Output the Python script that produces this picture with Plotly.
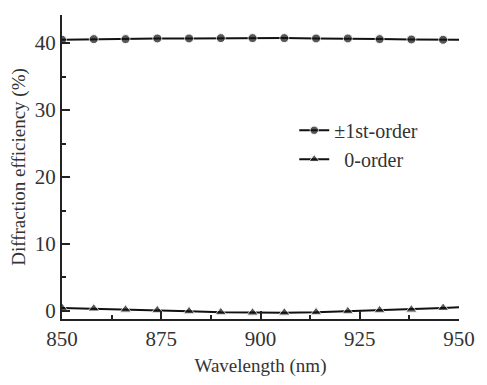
import plotly.graph_objects as go

wavelength = [850, 858, 866, 874, 882, 890, 898, 906, 914, 922, 930, 938, 946, 950]
first_order = [40.5, 40.6, 40.6, 40.7, 40.7, 40.75, 40.75, 40.75, 40.7, 40.7, 40.6, 40.55, 40.5, 40.5]
zero_order = [0.45, 0.35, 0.2, 0.1, -0.05, -0.2, -0.25, -0.25, -0.2, -0.05, 0.1, 0.2, 0.45, 0.55]
marker_sizes_c = [9] * 13 + [0]
marker_sizes_t = [10] * 13 + [0]

x_ticks = [850, 875, 900, 925, 950]
y_ticks = [0, 10, 20, 30, 40]

font_family = "Times New Roman, Liberation Serif, serif"

fig = go.Figure()
fig.add_trace(go.Scatter(
    x=wavelength, y=first_order, mode="lines+markers", name="±1st-order",
    line=dict(color="#111", width=2),
    marker=dict(symbol="circle", size=marker_sizes_c, color="#111"),
))
fig.add_trace(go.Scatter(
    x=wavelength, y=zero_order, mode="lines+markers", name="\u00a0\u00a00-order",
    line=dict(color="#111", width=2),
    marker=dict(symbol="triangle-up", size=marker_sizes_t, color="#111"),
))

axis_common = dict(
    showline=True, linecolor="#222", linewidth=2,
    ticks="inside", ticklen=8, tickwidth=1.5, tickcolor="#222",
    showgrid=False, zeroline=False, mirror=False,
    tickfont=dict(family=font_family, size=21, color="#333"),
)

fig.update_xaxes(
    range=[850, 950], tickvals=x_ticks,
    minor=dict(ticks="inside", ticklen=4, tickwidth=1.5, tickcolor="#222", dtick=12.5, tick0=850),
    title=dict(text="Wavelength (nm)", font=dict(family=font_family, size=19, color="#333"), standoff=8),
    **axis_common,
)
fig.update_yaxes(
    range=[-1.2, 44.2], tickvals=y_ticks,
    minor=dict(ticks="inside", ticklen=4, tickwidth=1.5, tickcolor="#222", dtick=5, tick0=0),
    title=dict(text="Diffraction efficiency (%)", font=dict(family=font_family, size=19, color="#333"), standoff=4),
    **axis_common,
)

fig.update_layout(
    width=487, height=385,
    margin=dict(l=62, r=16, t=15, b=62),
    plot_bgcolor="white", paper_bgcolor="white",
    showlegend=True,
    font=dict(family=font_family),
    legend=dict(
        x=0.585, y=0.685, xanchor="left", yanchor="top",
        bgcolor="rgba(0,0,0,0)", borderwidth=0,
        font=dict(family=font_family, size=20, color="#333"),
        tracegroupgap=0, itemwidth=30,
    ),
)

fig.write_html("out.html")
